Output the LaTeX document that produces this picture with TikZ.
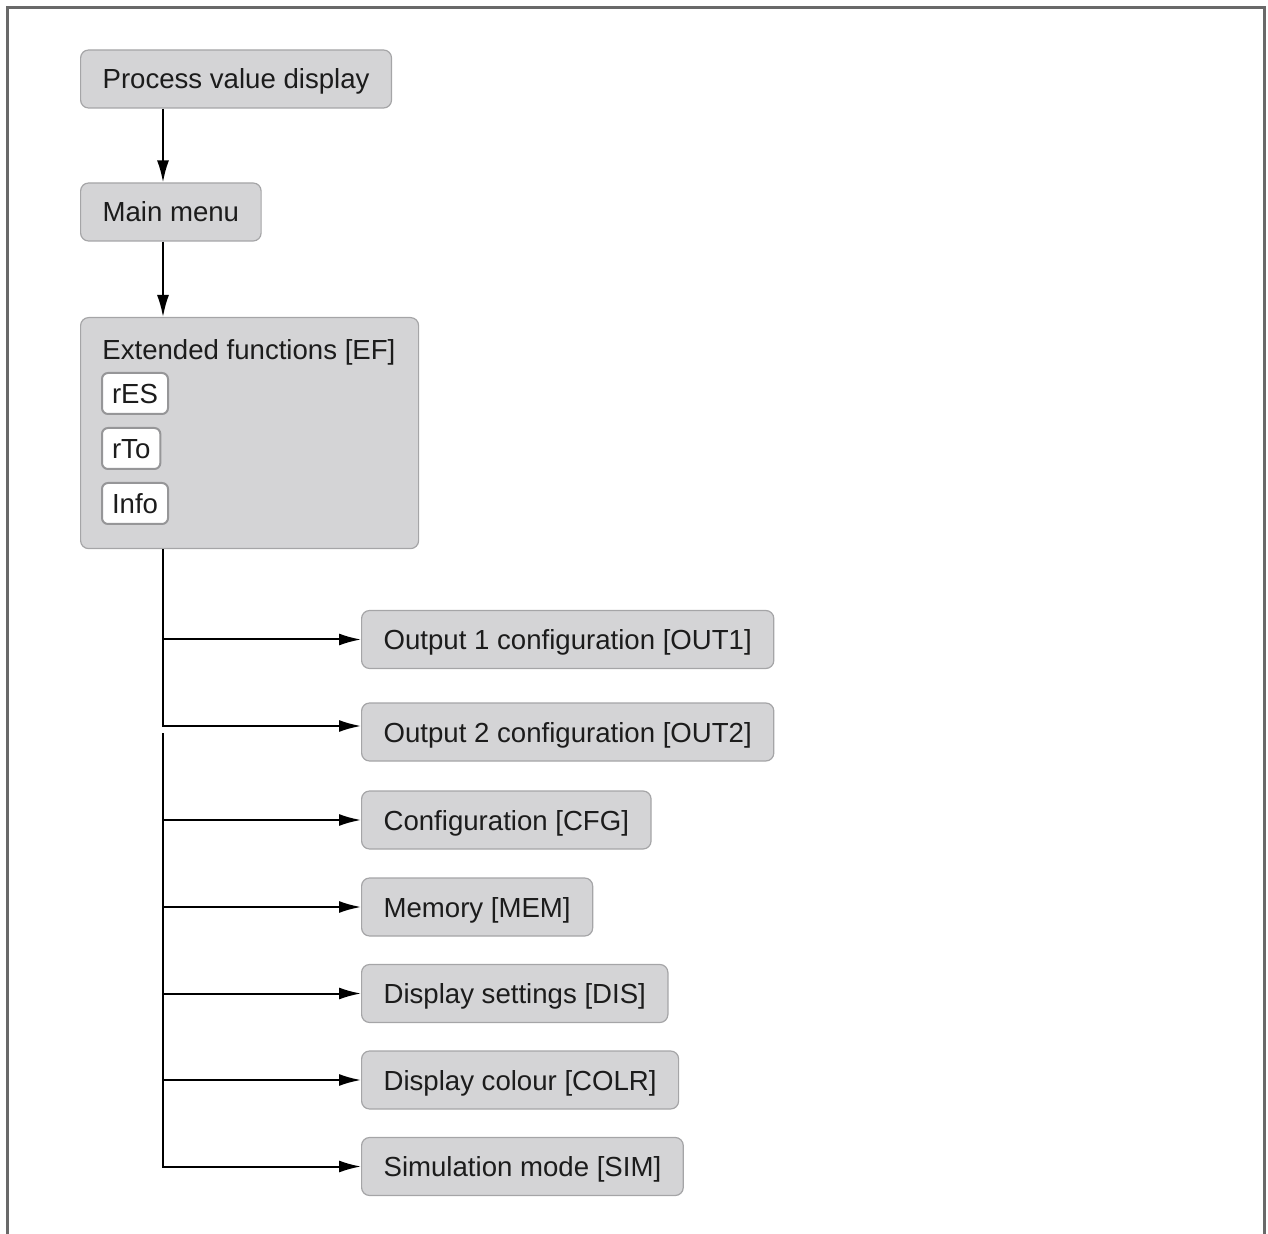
\documentclass[tikz,border=0pt]{standalone}
\usepackage{fontspec}
\setmainfont{Liberation Sans}
\usetikzlibrary{arrows.meta}
\definecolor{boxfill}{RGB}{212,212,214}
\definecolor{boxline}{RGB}{165,165,167}
\definecolor{parline}{RGB}{150,150,152}
\definecolor{frame}{RGB}{105,105,105}
\definecolor{ink}{RGB}{28,28,28}
\begin{document}
\begin{tikzpicture}[x=0.5pt, y=-0.5pt,
        every node/.style = {text=ink, font=\fontsize{13.8}{16}\selectfont},
        menu/.style = {draw=boxline, fill=boxfill, rounded corners=4pt, line width=0.6pt,
                anchor=west, minimum height=29pt, inner xsep=11pt, inner ysep=0pt,
                text height=10pt, text depth=0pt},
        param/.style = {draw=parline, fill=white, rounded corners=3pt, line width=1pt,
                anchor=west, minimum height=20.5pt, inner xsep=5pt, inner ysep=0pt,
                text height=10pt, text depth=0pt},
        arr/.style = {draw=black, line width=1pt, -{Latex[length=11pt, width=6pt]}}]
                \useasboundingbox (0,0) rectangle (1268,1234);
                \draw[frame, line width=1.5pt] (7,1234) -- (7,8) -- (1264,8) -- (1264,1234);

                \node[menu] at (80, 79) (pvd) {Process value display};
                \node[menu] at (80, 212) (main) {Main menu};
                \node[menu, anchor=north west, minimum width=169pt, minimum height=115.5pt] at (80, 317) (ef) {};
                \node[anchor=west, inner sep=0pt, text height=10pt, text depth=0pt] at (102, 350) (eftitle) {Extended functions [EF]};
                \node[param] at (101, 393.5) (res) {rES};
                \node[param] at (101, 448.5) (rto) {rTo};
                \node[param] at (101, 503.5) (info) {Info};

                \node[menu] at (361, 639.5) (out1) {Output 1 configuration [OUT1]};
                \node[menu] at (361, 732) (out2) {Output 2 configuration [OUT2]};
                \node[menu] at (361, 820) (cfg) {Configuration [CFG]};
                \node[menu] at (361, 907) (mem) {Memory [MEM]};
                \node[menu] at (361, 993.5) (dis) {Display settings [DIS]};
                \node[menu] at (361, 1080) (colr) {Display colour [COLR]};
                \node[menu] at (361, 1166.5) (sim) {Simulation mode [SIM]};

                \coordinate (trunk) at (163, 0);
                \coordinate (split) at (163, 733);

                \draw[arr] (pvd.south -| trunk) -- (main.north -| trunk);
                \draw[arr] (main.south -| trunk) -- (ef.north -| trunk);

                \draw[arr] (ef.south -| trunk) |- ([yshift=3pt]out2.west);
                \draw[arr] (trunk |- out1.west) -- (out1.west);
                \draw[arr] (split) |- (sim.west);
                \draw[arr] (trunk |- cfg.west) -- (cfg.west);
                \draw[arr] (trunk |- mem.west) -- (mem.west);
                \draw[arr] (trunk |- dis.west) -- (dis.west);
                \draw[arr] (trunk |- colr.west) -- (colr.west);
            \end{tikzpicture}
\end{document}
